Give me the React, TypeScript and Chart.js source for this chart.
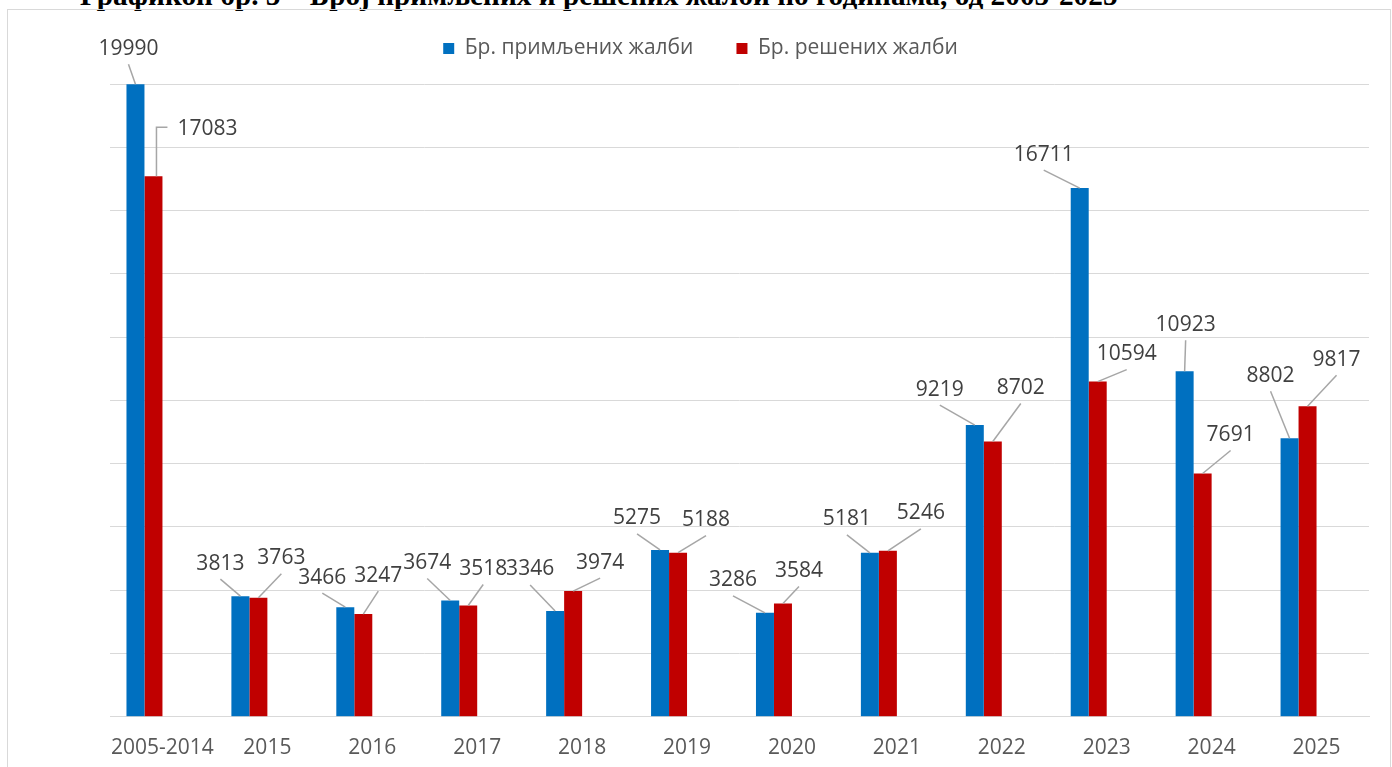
import { useEffect, useRef } from "react";
import { Chart, registerables } from "chart.js";

Chart.register(...registerables);

const titleText = "Графикон бр. 5 – Број примљених и решених жалби по годинама, од 2005-2025";
const categories = ["2005-2014", "2015", "2016", "2017", "2018", "2019", "2020", "2021", "2022", "2023", "2024", "2025"];
const seriesNames = ["Бр. примљених жалби", "Бр. решених жалби"];
const receivedComplaints = [19990, 3813, 3466, 3674, 3346, 5275, 3286, 5181, 9219, 16711, 10923, 8802];
const resolvedComplaints = [17083, 3763, 3247, 3518, 3974, 5188, 3584, 5246, 8702, 10594, 7691, 9817];
const yMin = 0;
const yMax = 20000;
const yStep = 2000;

// label placement (offset of label centre from the bar top, px)
const receivedLabelOffsets: number[][] = [[-7, -37], [-20, -34], [-23, -31], [-23, -39], [-25, -43], [-23, -33], [-32, -34], [-23, -35], [-35, -37], [-36, -35], [1, -48], [-19, -64]];
const resolvedLabelOffsets: number[][] = [[54, -49], [23, -41], [15, -40], [15, -38], [27, -30], [28, -34], [16, -34], [33, -39], [28, -55], [29, -29], [28, -40], [29, -48]];

const BLUE = "#0070C0";
const RED = "#C00000";
const CANVAS_SHIFT = 5;

const leaderLabels = {
  id: "leaderLabels",
  afterDatasetsDraw(chart: any) {
    const ctx = chart.ctx;
    const offsets = [receivedLabelOffsets, resolvedLabelOffsets];
    ctx.save();
    ctx.font = "21px 'Open Sans'";
    ctx.textAlign = "center";
    ctx.textBaseline = "alphabetic";
    [0, 1].forEach((di) => {
      const meta = chart.getDatasetMeta(di);
      const ds = chart.data.datasets[di];
      meta.data.forEach((el: any, i: number) => {
        const v = ds.data[i];
        if (v == null) return;
        const { x, y, width } = el.getProps(["x", "y", "width"], true);
        const [dx, dy] = offsets[di][i];
        const cx = x + dx;
        const cy = y + dy;
        const text = String(v);
        const w = ctx.measureText(text).width;
        const left = cx - w / 2;
        ctx.strokeStyle = "#a6a6a6";
        ctx.lineWidth = 1.5;
        ctx.beginPath();
        if (left > x + width / 2 + 8) {
          ctx.moveTo(left - 10, cy);
          ctx.lineTo(x + 3, cy);
          ctx.lineTo(x + 3, y);
        } else {
          ctx.moveTo(cx, cy + 17);
          ctx.lineTo(x, y);
        }
        ctx.stroke();
        ctx.fillStyle = "#404040";
        ctx.fillText(text, cx, cy + 7.5);
      });
    });
    ctx.restore();
  },
};

const legendSpacer = {
  id: "legendSpacer",
  beforeInit(chart: any) {
    const legend = chart.legend;
    if (!legend) return;
    const orig = legend.fit;
    legend.fit = function () {
      orig.call(this);
      this.height = 84 + CANVAS_SHIFT;
    };
  },
};

export default function App() {
  const ref = useRef<HTMLCanvasElement | null>(null);

  useEffect(() => {
    if (!ref.current) return;
    Chart.defaults.font.family = "'Open Sans', sans-serif";
    const emptySlot = categories.map(() => null);
    const chart = new Chart(ref.current, {
      type: "bar",
      data: {
        labels: categories,
        datasets: [
          { label: seriesNames[0], data: receivedComplaints, backgroundColor: BLUE, borderWidth: 0 },
          { label: seriesNames[1], data: resolvedComplaints, backgroundColor: RED, borderWidth: 0 },
          { label: "", data: emptySlot as any, backgroundColor: "transparent" },
          { label: "", data: emptySlot as any, backgroundColor: "transparent" },
        ],
      },
      options: {
        responsive: false,
        animation: false,
        devicePixelRatio: 1,
        categoryPercentage: 0.686,
        barPercentage: 1,
        layout: { padding: { left: 12, right: 3, top: 0, bottom: 9 } },
        plugins: {
          legend: {
            position: "top",
            labels: {
              boxWidth: 11,
              boxHeight: 11,
              padding: 43,
              color: "#595959",
              font: { size: 21 },
              filter: (item: any) => item.text !== "",
            },
          },
          tooltip: { enabled: false },
        },
        scales: {
          x: {
            grid: { display: false, drawTicks: false },
            border: { display: true, color: "#d9d9d9", width: 1 },
            ticks: { color: "#595959", font: { size: 21 }, padding: 19, maxRotation: 0, autoSkip: false },
          },
          y: {
            min: yMin,
            max: yMax,
            ticks: { display: false, stepSize: yStep },
            grid: { color: "#d9d9d9", drawTicks: false, lineWidth: 1 },
            border: { display: false },
            afterFit(s: any) {
              s.width = 98;
            },
          },
          y2: {
            position: "right",
            ticks: { display: false },
            grid: { display: false, drawTicks: false },
            border: { display: false },
            afterFit(s: any) {
              s.width = 20;
            },
          },
        },
      } as any,
      plugins: [leaderLabels, legendSpacer],
    });
    return () => chart.destroy();
  }, []);

  return (
    <div style={{ position: "absolute", left: 0, top: 0, width: 1392, height: 767, overflow: "hidden", background: "#fff" }}>
      <div
        style={{
          position: "absolute",
          left: 80,
          top: -19.5,
          fontFamily: "'Liberation Serif', serif",
          fontWeight: "bold",
          fontSize: 29.3,
          lineHeight: "29px",
          whiteSpace: "nowrap",
          color: "#000",
        }}
      >
        {titleText}
      </div>
      <div
        style={{
          position: "absolute",
          left: 7,
          top: 9,
          width: 1384,
          height: 800,
          boxSizing: "border-box",
          border: "1px solid #d9d9d9",
        }}
      />
      <canvas
        ref={ref}
        width={1392}
        height={794}
        style={{ position: "absolute", left: 0, top: -CANVAS_SHIFT, width: 1392, height: 794 }}
      />
    </div>
  );
}
